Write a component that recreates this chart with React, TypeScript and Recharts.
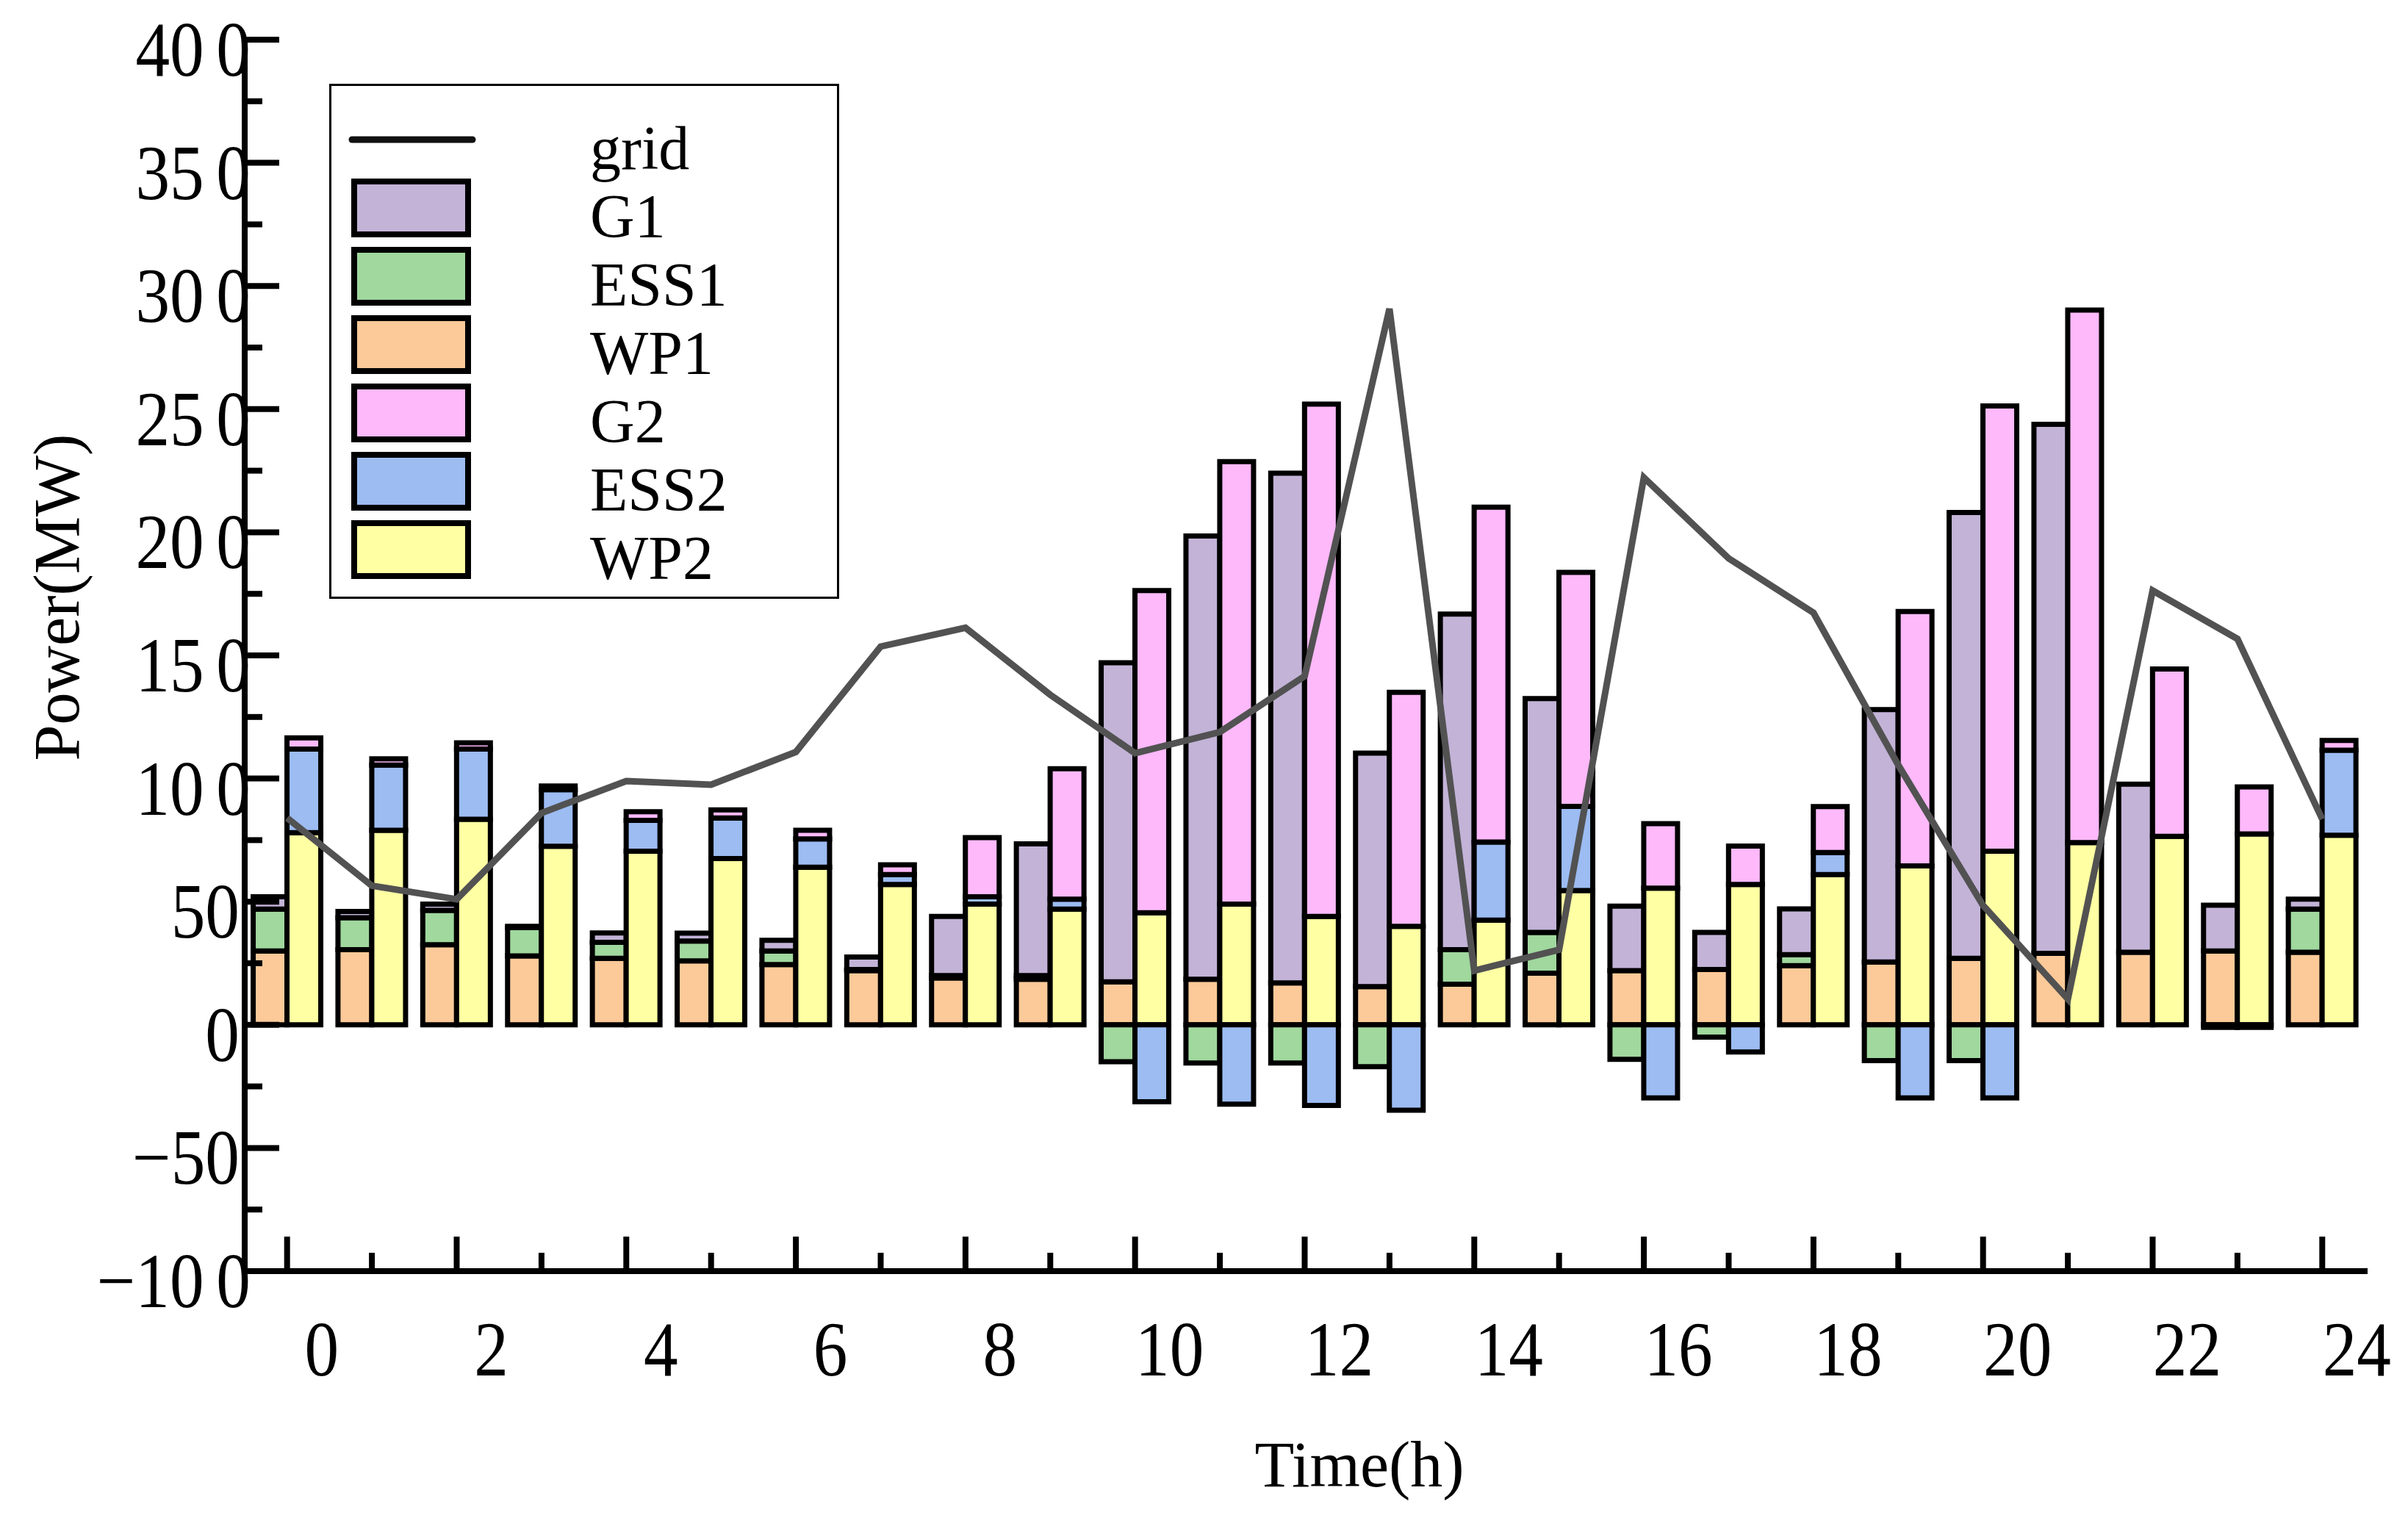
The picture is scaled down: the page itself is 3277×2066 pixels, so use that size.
import React from 'react';
import { ComposedChart, Bar, Line, XAxis, YAxis, Legend, Label } from 'recharts';

const HOURS = [0, 1, 2, 3, 4, 5, 6, 7, 8, 9, 10, 11, 12, 13, 14, 15, 16, 17, 18, 19, 20, 21, 22, 23, 24];
const WP1 = [30, 30.5, 32.5, 28, 27, 26, 24.5, 22, 19, 18.5, 17.5, 18.5, 17, 15.5, 16.5, 21, 22, 22.5, 24, 25.5, 27, 29, 29.5, 30, 29.5];
const ESS1 = [17, 13, 14, 11.5, 6.5, 8, 5.5, 0.5, 1, 1.5, -15, -15.5, -15.5, -17, 14, 16.5, -14, -5, 4.5, -14.5, -14.5, 0, 0, -1, 17.5];
const G1 = [5, 2.5, 2.5, 0.5, 3.8, 3.2, 4.3, 5, 24, 53.5, 129.5, 180, 207, 94.8, 136.3, 95, 26.2, 15, 18.6, 102.5, 181, 214.8, 68.2, 18.6, 4];
const WP2 = [78, 79, 83.5, 72.5, 70.5, 67.5, 64, 57, 49, 47, 45.5, 49, 44, 40, 42.5, 54.5, 55.5, 57, 61, 64.5, 70.5, 74, 76.5, 77.5, 77];
const ESS2 = [34, 26.5, 28.5, 23, 12.5, 16.5, 11.5, 4, 3, 4, -31.2, -32.2, -32.7, -34.7, 31.7, 34.2, -29.7, -11, 9, -29.7, -29.7, 0, 0, -1, 34.5];
const G2 = [4.5, 2.5, 2.5, 1.5, 3.5, 3.3, 3.5, 4, 24, 53, 130.8, 179.7, 208, 95, 136, 95, 26.2, 15.6, 18.6, 103.3, 180.8, 216.2, 68, 19.1, 4];
const GRID = [84, 56.5, 51, 86, 99, 97.5, 110.8, 153.6, 161.2, 134, 110.3, 118.9, 141.6, 290.7, 22, 30.5, 222.2, 189.4, 167.3, 105.5, 48.5, 10.5, 176.3, 156.7, 83.5];

const Y_TICKS = [-100, -75, -50, -25, 0, 25, 50, 75, 100, 125, 150, 175, 200, 225, 250, 275, 300, 325, 350, 375, 400];

const COLORS = {
  G1: '#C3B3D7',
  ESS1: '#A0D89E',
  WP1: '#FCCA99',
  G2: '#FDB9F9',
  ESS2: '#9CBCF2',
  WP2: '#FFFFA3',
  grid: '#525252',
};

const LEGEND_ITEMS = ['grid', 'G1', 'ESS1', 'WP1', 'G2', 'ESS2', 'WP2'];

const data = HOURS.map((h, i) => ({
  hour: h,
  WP1: WP1[i],
  ESS1: ESS1[i],
  G1: G1[i],
  WP2: WP2[i],
  ESS2: ESS2[i],
  G2: G2[i],
  grid: GRID[i],
}));

const FONT = '"Liberation Serif", "Times New Roman", serif';
const TICK_FONT = 106;
const SX = 0.88;
const BAR_STROKE = 7;

const fmt = (v: number) => (v < 0 ? '\u2212' + Math.abs(v) : String(v));

const YTick = (props: any) => {
  const { x, y, payload } = props;
  const v = payload.value as number;
  const major = v % 50 === 0;
  const len = major ? 47 : 24;
  const s = fmt(v);
  const digits = String(Math.abs(v));
  let label = null;
  if (major) {
    if (digits.length >= 3) {
      label = (
        <g transform={`translate(${x + 8},${y + 49}) scale(${SX},1)`}>
          <text x={0} y={0} textAnchor="end" fontFamily={FONT} fontSize={TICK_FONT} fill="#000">
            {s.slice(0, -1)}
            <tspan dx={19}>{s.slice(-1)}</tspan>
          </text>
        </g>
      );
    } else {
      label = (
        <g transform={`translate(${x - 7},${y + 49}) scale(${SX},1)`}>
          <text x={0} y={0} textAnchor="end" fontFamily={FONT} fontSize={TICK_FONT} fill="#000">
            {s}
          </text>
        </g>
      );
    }
  }
  return (
    <g>
      <line x1={x} x2={x + len} y1={y} y2={y} stroke="#000" strokeWidth={8} />
      {label}
    </g>
  );
};

const XTick = (props: any) => {
  const { x, y, payload } = props;
  const v = payload.value as number;
  const major = v % 2 === 0;
  const len = major ? 47 : 25;
  return (
    <g>
      <line x1={x} x2={x} y1={y} y2={y - len} stroke="#000" strokeWidth={8} />
      {major && (
        <g transform={`translate(${x + 47},${y + 142}) scale(${SX},1)`}>
          <text x={0} y={0} textAnchor="middle" fontFamily={FONT} fontSize={TICK_FONT} fill="#000">
            {String(v)}
          </text>
        </g>
      )}
    </g>
  );
};

const LegendBox = () => {
  const W = 694;
  const H = 701;
  return (
    <div style={{ width: W, height: H, border: '3px solid #000', boxSizing: 'border-box', background: '#fff' }}>
      <svg width={W - 6} height={H - 6} style={{ display: 'block' }}>
        {LEGEND_ITEMS.map((name, i) => {
          const cy = 73 + 93 * i;
          return (
            <g key={name}>
              {name === 'grid' ? (
                <line x1={28} x2={192} y1={cy} y2={cy} stroke="#111" strokeWidth={9} strokeLinecap="round" />
              ) : (
                <rect x={31} y={cy - 36} width={155} height={72} fill={(COLORS as any)[name]} stroke="#000" strokeWidth={8} />
              )}
              <text x={352} y={cy + 40} fontFamily={FONT} fontSize={84} fill="#000">
                {name}
              </text>
            </g>
          );
        })}
      </svg>
    </div>
  );
};

const XTitle = () => (
  <text x={1850} y={2023} textAnchor="middle" fontFamily={FONT} fontSize={88} fill="#000">
    Time(h)
  </text>
);

const YTitle = () => (
  <text
    x={107}
    y={813}
    transform="rotate(-90 107 813)"
    textAnchor="middle"
    fontFamily={FONT}
    fontSize={88}
    fill="#000"
  >
    Power(MW)
  </text>
);

export default function App() {
  return (
    <div style={{ position: 'fixed', left: 0, top: 0, width: 3277, height: 2066, background: '#fff' }}>
      <ComposedChart
        width={3277}
        height={2066}
        data={data}
        margin={{ top: 54, right: 59, left: 33, bottom: 36 }}
        stackOffset="sign"
        barGap={0}
        barCategoryGap="10%"
      >
        <XAxis
          dataKey="hour"
          type="category"
          interval={0}
          height={300}
          tickSize={0}
          tickMargin={0}
          tickLine={false}
          axisLine={{ stroke: '#000', strokeWidth: 8, strokeLinecap: 'square' }}
          tick={<XTick />}
        >
          <Label content={<XTitle />} />
        </XAxis>
        <YAxis
          type="number"
          domain={[-100, 400]}
          ticks={Y_TICKS}
          interval={0}
          width={300}
          tickSize={0}
          tickMargin={0}
          tickLine={false}
          allowDataOverflow
          axisLine={{ stroke: '#000', strokeWidth: 8, strokeLinecap: 'square' }}
          tick={<YTick />}
        >
          <Label content={<YTitle />} />
        </YAxis>
        <Legend
          layout="vertical"
          align="center"
          verticalAlign="middle"
          content={() => <LegendBox />}
          wrapperStyle={{ position: 'absolute', left: 448, top: 114, width: 694, height: 701 }}
        />
        <Bar dataKey="WP1" stackId="L" fill={COLORS.WP1} stroke="#000" strokeWidth={BAR_STROKE} isAnimationActive={false} />
        <Bar dataKey="ESS1" stackId="L" fill={COLORS.ESS1} stroke="#000" strokeWidth={BAR_STROKE} isAnimationActive={false} />
        <Bar dataKey="G1" stackId="L" fill={COLORS.G1} stroke="#000" strokeWidth={BAR_STROKE} isAnimationActive={false} />
        <Bar dataKey="WP2" stackId="R" fill={COLORS.WP2} stroke="#000" strokeWidth={BAR_STROKE} isAnimationActive={false} />
        <Bar dataKey="ESS2" stackId="R" fill={COLORS.ESS2} stroke="#000" strokeWidth={BAR_STROKE} isAnimationActive={false} />
        <Bar dataKey="G2" stackId="R" fill={COLORS.G2} stroke="#000" strokeWidth={BAR_STROKE} isAnimationActive={false} />
        <Line
          dataKey="grid"
          type="linear"
          stroke={COLORS.grid}
          strokeWidth={9}
          dot={false}
          activeDot={false}
          isAnimationActive={false}
        />
      </ComposedChart>
    </div>
  );
}
